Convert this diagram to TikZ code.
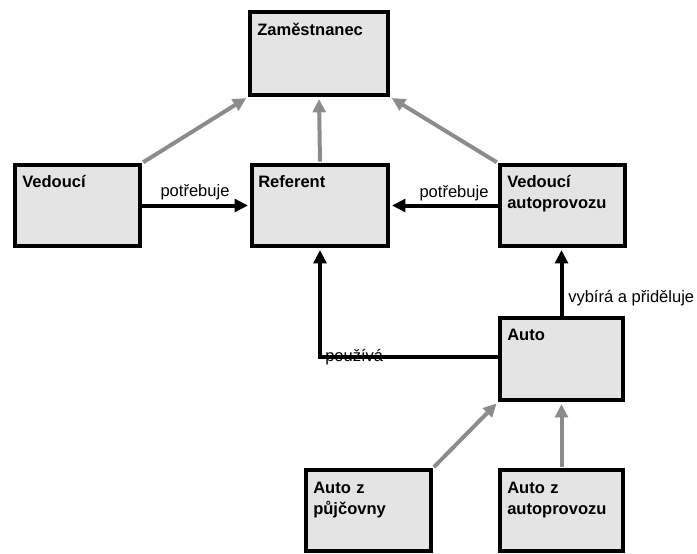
\documentclass[tikz,border=0pt]{standalone}
\usepackage{fontspec}
\setmainfont{Liberation Sans}
\usetikzlibrary{arrows.meta}
\definecolor{boxfill}{RGB}{228,228,228}
\definecolor{inherit}{RGB}{140,140,140}
\begin{document}
\begin{tikzpicture}[x=0.75pt,y=-0.75pt,
  box/.style={draw=black,line width=3pt,fill=boxfill,inner sep=0pt,
    minimum width=125*0.75pt,minimum height=81*0.75pt},
  boxtext/.style={font=\bfseries\fontsize{12.4pt}{15.75pt}\selectfont,
    anchor=base west,inner sep=0pt,text width=115*0.75pt,align=left},
  lbl/.style={font=\fontsize{12.4pt}{14pt}\selectfont,inner sep=0pt},
  assoc/.style={line width=3pt,-{Triangle[length=10pt,width=9.5pt]},shorten >=1.5pt},
  gen/.style={draw=inherit,line width=3pt,
    -{Triangle[length=10pt,width=9.5pt]},shorten >=1.5pt,shorten <=1pt}]
  \useasboundingbox (0,0) rectangle (697,554);

  % classes
  \node[box,minimum width=138*0.75pt,minimum height=83*0.75pt] (zam) at (319,53.5) {};
  \node[box] (ved) at (77.5,205.5) {};
  \node[box,minimum width=136*0.75pt] (ref) at (320,205.5) {};
  \node[box] (va) at (562.5,205.5) {};
  \node[box,minimum width=123*0.75pt,minimum height=82*0.75pt] (auto) at (561.5,359) {};
  \node[box] (azp) at (368.5,510.5) {};
  \node[box,minimum width=123*0.75pt] (aza) at (561.5,510.5) {};

  % class names
  \node[boxtext] (tzam) at (257,35) {Zaměstnanec};
  \node[boxtext] (tved) at (22,187) {Vedoucí};
  \node[boxtext] (tref) at (258,187) {Referent};
  \node[boxtext] (tva) at (507,187) {Vedoucí\\autoprovozu};
  \node[boxtext] (tauto) at (507,340) {Auto};
  \node[boxtext] (tazp) at (313,493) {Auto z\\půjčovny};
  \node[boxtext] (taza) at (507,493) {Auto z\\autoprovozu};

  % generalisations
  \draw[gen] (ved.north east) -- (zam.south west);
  \draw[gen] (ref.north) -- (zam.south);
  \draw[gen] (va.north west) -- (zam.south east);
  \draw[gen] (azp.north east) -- (auto.south west);
  \draw[gen] (aza.north) -- (auto.south);

  % associations
  \draw[assoc] (ved.east) -- (ref.west);
  \draw[assoc] (va.west) -- (ref.east);
  \draw[assoc] (auto.north) -- (auto.north |- va.south);
  \draw[assoc] ([yshift=1.5pt]auto.west) -| (ref.south);

  % association labels
  \node[lbl,anchor=base] (l1) at (195,196) {potřebuje};
  \node[lbl,anchor=base] (l2) at (454,197) {potřebuje};
  \node[lbl,anchor=base west] (l3) at (568,302) {vybírá a přiděluje};
  \node[lbl,anchor=base west] (l4) at (325,361) {používá};
\end{tikzpicture}
\end{document}
